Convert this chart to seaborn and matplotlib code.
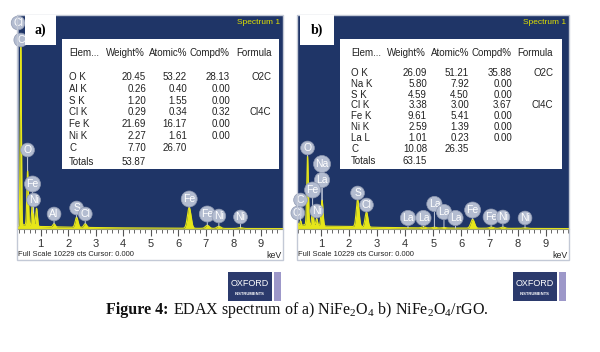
import numpy as np
import pandas as pd
import matplotlib
matplotlib.use("Agg")
import matplotlib.pyplot as plt
import seaborn as sns
from matplotlib.patches import Rectangle
from matplotlib.ticker import MultipleLocator, FixedLocator
from matplotlib import font_manager

# ------------------------------------------------------------------ data
full_scale = 10229

# panel a) NiFe2O4 - peaks
peak_energy_a = [0.277, 0.525, 0.705, 0.851, 1.487, 2.307, 2.622, 6.400, 7.058, 7.478, 8.265]
peak_counts_a = [8600, 2600, 1350, 850, 150, 480, 180, 1000, 150, 100, 40]
peak_sigma_a = [0.022, 0.028, 0.030, 0.030, 0.040, 0.050, 0.050, 0.065, 0.070, 0.070, 0.075]
bg_energy = [0.1, 0.4, 1.0, 2.0, 3.0, 4.0, 5.0, 7.0, 10.0]
bg_counts_a = [100, 200, 120, 90, 70, 55, 45, 30, 20]
label_elem_a = ["Cl", "C", "O", "Fe", "Ni", "Al", "S", "Cl", "Fe", "Fe", "Ni", "Ni"]
label_energy_a = [0.18, 0.277, 0.525, 0.705, 0.743, 1.487, 2.307, 2.622, 6.40, 7.058, 7.478, 8.265]
label_counts_a = [9847, 9034, 3776, 2151, 1386, 717, 1004, 717, 1434, 717, 621, 574]

# panel b) NiFe2O4/rGO
peak_energy_b = [0.18, 0.277, 0.525, 0.705, 0.851, 1.041, 2.307, 2.622, 4.65, 5.04, 5.38, 6.400, 7.058, 7.478, 8.265]
peak_counts_b = [150, 250, 3300, 750, 350, 1250, 1300, 720, 50, 40, 30, 430, 60, 60, 30]
peak_sigma_b = [0.02, 0.022, 0.028, 0.030, 0.030, 0.035, 0.050, 0.050, 0.06, 0.06, 0.06, 0.065, 0.070, 0.070, 0.075]
bg_counts_b = [100, 200, 140, 120, 80, 60, 50, 35, 20]
label_elem_b = ["Cl", "C", "O", "Na", "La", "Fe", "Ni", "S", "Cl", "La", "La", "La", "La", "La", "Fe", "Fe", "Ni", "Ni"]
label_energy_b = [0.18, 0.277, 0.525, 1.041, 1.041, 0.705, 0.851, 2.307, 2.622, 4.10, 4.65, 5.04, 5.38, 5.79, 6.40, 7.058, 7.478, 8.265]
label_counts_b = [765, 1386, 3872, 3107, 2342, 1864, 860, 1721, 1147, 526, 526, 1195, 813, 526, 908, 574, 574, 526]

# quantification tables
table_header = ["Elem...", "Weight%", "Atomic%", "Compd%", "Formula"]
elements_a = ["O K", "Al K", "S K", "Cl K", "Fe K", "Ni K", "C"]
weight_a = [20.45, 0.26, 1.20, 0.29, 21.69, 2.27, 7.70]
atomic_a = [53.22, 0.40, 1.55, 0.34, 16.17, 1.61, 26.70]
compd_a = [28.13, 0.00, 0.00, 0.32, 0.00, 0.00, None]
formula_a = ["O2C", "", "", "Cl4C", "", "", ""]
total_a = 53.87

elements_b = ["O K", "Na K", "S K", "Cl K", "Fe K", "Ni K", "La L", "C"]
weight_b = [26.09, 5.80, 4.59, 3.38, 9.61, 2.59, 1.01, 10.08]
atomic_b = [51.21, 7.92, 4.50, 3.00, 5.41, 1.39, 0.23, 26.35]
compd_b = [35.88, 0.00, 0.00, 3.67, 0.00, 0.00, 0.00, None]
formula_b = ["O2C", "", "", "Cl4C", "", "", "", ""]
total_b = 63.15

tick_values = [1, 2, 3, 4, 5, 6, 7, 8, 9]

caption_bold = "Figure 4:"
caption_rest = r"EDAX spectrum of a) NiFe$_2$O$_4$ b) NiFe$_2$O$_4$/rGO."

# ------------------------------------------------------------------ style
names = {f.name for f in font_manager.fontManager.ttflist}
SANS = "Liberation Sans"
NARROW = "Liberation Sans Narrow" if "Liberation Sans Narrow" in names else "Liberation Sans"
plt.rcParams["font.family"] = [SANS, "DejaVu Sans"]
plt.rcParams["mathtext.fontset"] = "custom"
plt.rcParams["mathtext.rm"] = "Liberation Serif"
plt.rcParams["mathtext.it"] = "Liberation Serif:italic"
plt.rcParams["mathtext.bf"] = "Liberation Serif:bold"

NAVY = "#1f3567"
YELLOW = "#e6e619"
LABEL_FC = "#b3bcd0"
BORDER = "#c3c9d6"

W, H = 600, 352
fig = plt.figure(figsize=(W / 100, H / 100), dpi=100)
fig.patch.set_facecolor("white")


def fx(x):
    return x / W


def fy(y):
    return 1 - y / H


def ftext(x, y, s, **kw):
    return fig.text(fx(x), fy(y), s, **kw)


def frect(x0, y0, x1, y1, **kw):
    fig.patches.append(Rectangle((fx(x0), fy(y1)), fx(x1) - fx(x0), fy(y0) - fy(y1),
                                 transform=fig.transFigure, figure=fig, **kw))


grid = np.linspace(0, 10, 4001)


def spectrum(pe, pc, ps, bgc):
    s = np.interp(grid, bg_energy, bgc)
    for e, c, sg in zip(pe, pc, ps):
        s = s + c * np.exp(-0.5 * ((grid - e) / sg) ** 2)
    return s


def panel(x0, x1, xlim, pe, pc, ps, bgc, le, ln, lc):
    top, bot = 15, 229
    frect(x0, top, x1, 260, facecolor="none", edgecolor=BORDER, lw=1.0, zorder=0.5)
    ax = fig.add_axes([fx(x0), fy(bot), fx(x1) - fx(x0), fy(top) - fy(bot)])
    ax.set_facecolor(NAVY)
    spec = spectrum(pe, pc, ps, bgc)
    df = pd.DataFrame({"keV": grid, "counts": spec})
    ax.fill_between(df["keV"], 0, df["counts"], color=YELLOW, lw=0, zorder=2)
    sns.lineplot(data=df, x="keV", y="counts", ax=ax, color=YELLOW, lw=0.8, zorder=2)
    ax.set_xlim(*xlim)
    ax.set_ylim(0, full_scale)
    ax.set_xlabel("")
    ax.set_ylabel("")
    ax.set_yticks([])
    for s in ["top", "left", "right"]:
        ax.spines[s].set_visible(False)
    ax.spines["bottom"].set_color("#9aa070")
    ax.spines["bottom"].set_linewidth(0.8)
    ax.xaxis.set_major_locator(FixedLocator(tick_values))
    ax.set_xticklabels([str(v) for v in tick_values])
    ax.xaxis.set_minor_locator(MultipleLocator(0.2))
    ax.tick_params(axis="x", which="major", direction="out", length=5, width=0.8,
                   color="#555555", labelsize=8, labelcolor="#333333", pad=2)
    ax.tick_params(axis="x", which="minor", direction="out", length=3, width=0.7,
                   color="#666666")
    for e, n, c in zip(le, ln, lc):
        tgt = float(np.interp(e, grid, spec))
        a = ax.annotate(n, xy=(e, min(tgt, c)), xytext=(e, c), ha="center", va="center",
                        fontsize=7.5, color="white", zorder=5,
                        bbox=dict(boxstyle="circle,pad=0.18", fc=LABEL_FC, ec="#8e98b0", lw=0.5),
                        arrowprops=dict(arrowstyle="-", color="#c9d0de", lw=0.7,
                                        shrinkA=0, shrinkB=0))
        a.set_clip_on(True)
    ftext(x1 - 3, 23, "Spectrum 1", color="#e0e000", fontsize=6, family=NARROW,
          ha="right", va="center")
    ftext(x0 + 1, 255, "Full Scale 10229 cts Cursor: 0.000", fontsize=5.4, family=NARROW,
          color="#222222", ha="left", va="center")
    ftext(x1 - 1, 255, "keV", fontsize=6.3, family=NARROW, color="#222222",
          ha="right", va="center")
    return ax


panel(17, 283, (0.14, 9.81), peak_energy_a, peak_counts_a, peak_sigma_a, bg_counts_a,
      label_energy_a, label_elem_a, label_counts_a)
panel(297, 569, (0.15, 9.83), peak_energy_b, peak_counts_b, peak_sigma_b, bg_counts_b,
      label_energy_b, label_elem_b, label_counts_b)

# panel tags
frect(25, 15, 56, 45, facecolor="white", edgecolor="none", zorder=3)
ftext(40, 30, "a)", fontsize=10, fontweight="bold", family="Liberation Serif",
      ha="center", va="center", zorder=4)
frect(300, 15, 334, 45, facecolor="white", edgecolor="none", zorder=3)
ftext(317, 30, "b)", fontsize=10, fontweight="bold", family="Liberation Serif",
      ha="center", va="center", zorder=4)


def fmt(v):
    return "" if v is None else f"{v:.2f}"


def table(box, head_x, col_r, row_y, tot_y, els, wt, at, cp, fm, tot):
    frect(*box, facecolor="white", edgecolor="none", zorder=3)
    kw = dict(fontsize=7, color="#222222", va="center", zorder=4)
    for hx, h in zip(head_x, table_header):
        ftext(hx, 53, h, ha="left", **kw)
    for y, e, w, a, c, f in zip(row_y, els, wt, at, cp, fm):
        ftext(head_x[0], y, e, ha="left", **kw)
        ftext(col_r[0], y, fmt(w), ha="right", **kw)
        ftext(col_r[1], y, fmt(a), ha="right", **kw)
        ftext(col_r[2], y, fmt(c), ha="right", **kw)
        ftext(col_r[3], y, f, ha="right", **kw)
    ftext(head_x[0], tot_y, "Totals", ha="left", **kw)
    ftext(col_r[0], tot_y, fmt(tot), ha="right", **kw)


table((62, 39, 279, 169), [69, 106, 149, 190, 236], [146, 187, 230, 271],
      [77 + 11.8 * i for i in range(len(elements_a))], 162,
      elements_a, weight_a, atomic_a, compd_a, formula_a, total_a)
table((340, 39, 562, 169), [351, 387, 431, 471, 517], [427, 469, 512, 553],
      [72.7 + 10.9 * i for i in range(len(elements_b))], 161,
      elements_b, weight_b, atomic_b, compd_b, formula_b, total_b)

# Oxford Instruments logos
for lx in (228, 513):
    frect(lx, 272, lx + 44, 301, facecolor="#2b3a6c", edgecolor="none", zorder=3)
    frect(lx + 46, 272, lx + 53, 301, facecolor="#9d98c9", edgecolor="none", zorder=3)
    ftext(lx + 22, 283, "OXFORD", fontsize=6.5, color="white", family=NARROW,
          ha="center", va="center", zorder=4)
    ftext(lx + 22, 294, "INSTRUMENTS", fontsize=3.0, color="white", family=SANS,
          fontweight="bold", ha="center", va="center", zorder=4)

# caption: bold lead-in followed by regular text, measured so they sit side by side
cap_kw = dict(fontsize=11.5, family="Liberation Serif", color="#111111", va="baseline")
t1 = ftext(0, 314, caption_bold, fontweight="bold", ha="left", **cap_kw)
t2 = ftext(0, 314, caption_rest, ha="left", **cap_kw)
renderer = fig.canvas.get_renderer()
w1 = t1.get_window_extent(renderer).width
w2 = t2.get_window_extent(renderer).width
gap = 4.5
start = 297 - (w1 + gap + w2) / 2
t1.set_x(fx(start))
t2.set_x(fx(start + w1 + gap))

fig.savefig("out.png", dpi=100, facecolor="white")
